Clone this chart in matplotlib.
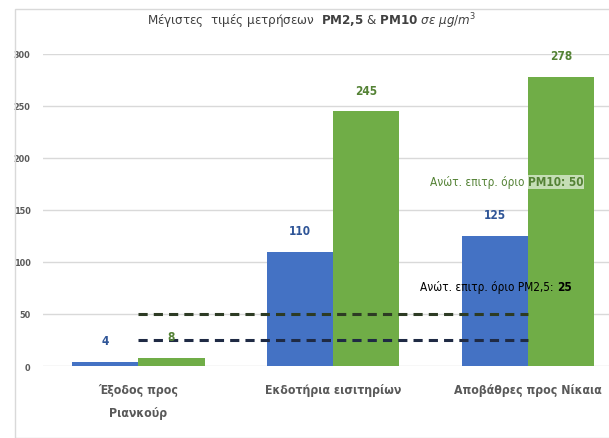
import matplotlib.pyplot as plt
from matplotlib import font_manager as fm
from matplotlib.patches import Rectangle

# στενή γραμματοσειρά αν υπάρχει
names = {f.name for f in fm.fontManager.ttflist}
if 'Liberation Sans Narrow' in names:
    plt.rcParams['font.family'] = ['Liberation Sans Narrow', 'DejaVu Sans']
else:
    plt.rcParams['font.family'] = ['DejaVu Sans']
    plt.rcParams['font.stretch'] = 'condensed'
plt.rcParams['mathtext.fontset'] = 'custom'
plt.rcParams['mathtext.it'] = plt.rcParams['font.family'][0] + ':italic'
plt.rcParams['mathtext.rm'] = plt.rcParams['font.family'][0]
plt.rcParams['mathtext.bf'] = plt.rcParams['font.family'][0] + ':bold'

# δεδομένα
categories = ['Έξοδος προς\nΡιανκούρ', 'Εκδοτήρια εισιτηρίων', 'Αποβάθρες προς Νίκαια']
pm25 = [4, 110, 125]
pm10 = [8, 245, 278]
limit_pm25 = 25
limit_pm10 = 50

blue = '#4472C4'
green = '#70AD47'

fig = plt.figure(figsize=(6.09, 4.39), dpi=100)
ax = fig.add_axes([0.0706, 0.164, 0.929, 0.711])

# πλαίσιο γύρω από το γράφημα
fig.patches.append(Rectangle((15 / 609, 0), 1, 1 - 10 / 439, transform=fig.transFigure,
                             fill=False, edgecolor='#d9d9d9', linewidth=1))

x = range(len(categories))
w = 0.34
ax.bar([i - w / 2 for i in x], pm25, w, color=blue, zorder=2)
ax.bar([i + w / 2 for i in x], pm10, w, color=green, zorder=2)

for i in x:
    ax.text(i - w / 2, pm25[i] + 14, str(pm25[i]), ha='center', va='bottom',
            color='#2F5597', fontsize=8.5, fontweight='bold', zorder=4)
    ax.text(i + w / 2, pm10[i] + 14, str(pm10[i]), ha='center', va='bottom',
            color='#548235', fontsize=8.5, fontweight='bold', zorder=4)

# όρια
ax.plot([0, 2.0], [limit_pm10, limit_pm10], ls=(0, (3, 2)), lw=2.2, color='#2d3b24', zorder=3)
ax.plot([0, 2.0], [limit_pm25, limit_pm25], ls=(0, (3, 2)), lw=2.2, color='#1f2a44', zorder=3)
ax.text(2.0, 177, 'Ανώτ. επιτρ. όριο ', ha='right', va='center', color='#548235', fontsize=8.5, zorder=4)
ax.text(2.0, 177, 'PM10: 50', ha='left', va='center', color='#548235', fontsize=8.5,
        fontweight='bold', zorder=4,
        bbox=dict(facecolor='white', alpha=0.6, edgecolor='none', pad=0.5))
ax.text(2.15, 76, 'Ανώτ. επιτρ. όριο PM2,5: ', ha='right', va='center', color='black', fontsize=8.5, zorder=4)
ax.text(2.15, 76, '25', ha='left', va='center', color='black', fontsize=8.5, fontweight='bold', zorder=4)

ax.set_ylim(0, 300)
ax.set_xlim(-0.49, 2.415)
ax.set_yticks(range(0, 301, 50))
ax.set_xticks(list(x))
ax.set_xticklabels(categories, fontsize=8.8, fontweight='bold', color='#595959', linespacing=2.0)
for t in ax.get_yticklabels():
    t.set_fontsize(6.5)
    t.set_fontweight('bold')
    t.set_color('#595959')
ax.tick_params(length=0, pad=9)
ax.tick_params(axis='x', pad=12)
ax.grid(axis='y', color='#d9d9d9', linewidth=1, zorder=0)
for s in ax.spines.values():
    s.set_visible(False)

fig.text(0.512, 0.952, 'Μέγιστες  τιμές μετρήσεων  $\\mathbf{PM2{,}5}$ & $\\mathbf{PM10}$ $\\mathit{σε\\ μg/m^3}$',
         ha='center', va='center', fontsize=9.5, color='#404040')

fig.savefig('out.png', dpi=100)
